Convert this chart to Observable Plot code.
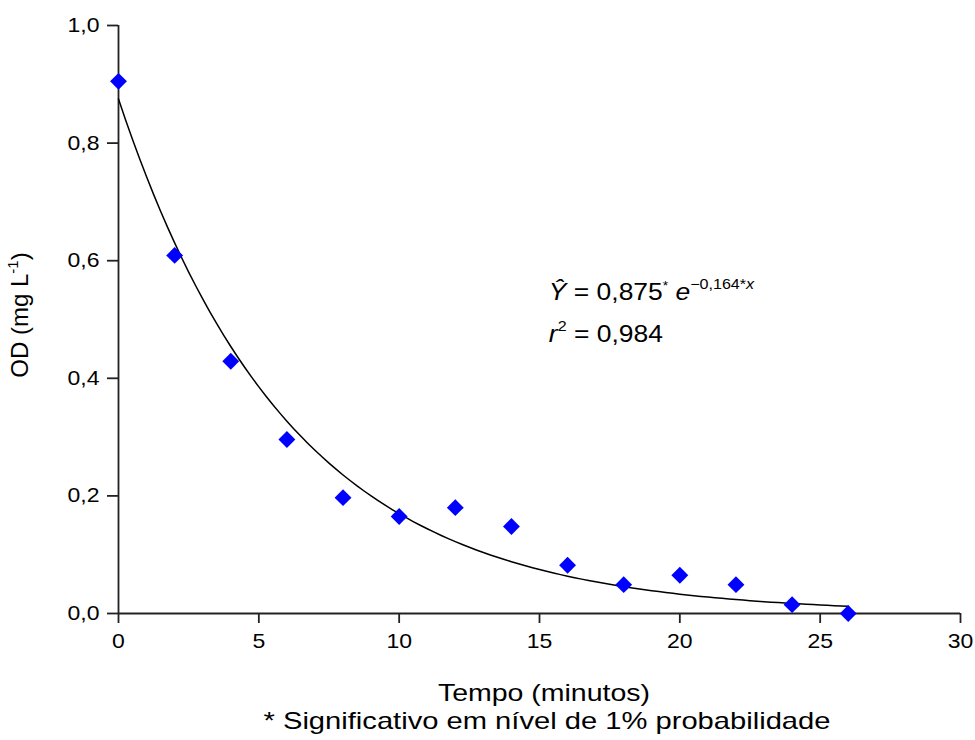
<!DOCTYPE html>
<html>
<head>
<meta charset="utf-8">
<script src="https://cdn.jsdelivr.net/npm/d3@7"></script>
<script src="https://cdn.jsdelivr.net/npm/@observablehq/plot@0.6"></script>
<style>
  html, body { margin: 0; padding: 0; background: #fff; }
  svg { font-family: "Liberation Sans", Arial, sans-serif; }
</style>
</head>
<body>
<div id="chart"></div>
<script>
const tempo = [0, 2, 4, 6, 8, 10, 12, 14, 16, 18, 20, 22, 24, 26];
const od = [0.905, 0.609, 0.429, 0.296, 0.197, 0.165, 0.180, 0.148, 0.082, 0.049, 0.065, 0.049, 0.015, 0.0];
// Fitted model coefficients shown on the chart
const modelA = [0.875];
const modelB = [-0.164];
const r2 = [0.984];
const xTicks = [0, 5, 10, 15, 20, 25, 30];
const yTicks = [0, 0.2, 0.4, 0.6, 0.8, 1.0];
const xTitle = "Tempo (minutos)";
const captionText = "* Significativo em nível de 1% probabilidade";

const points = tempo.map((t, i) => ({t, v: od[i]}));
const fitX = d3.range(0, 26.001, 0.25);
const fit = fitX.map(t => ({t, v: modelA[0] * Math.exp(modelB[0] * t)}));

const fmt = d => d.toFixed(1).replace(".", ",");
const fmt3 = d => d.toFixed(3).replace(".", ",");
const stretch = 1.15;

function equation(index, scales, values, dimensions) {
  const x0 = scales.x(15.35);
  const y1 = scales.y(0.532);
  const y2 = scales.y(0.461);
  const g = d3.create("svg:g").attr("fill", "#000").attr("font-size", 23).attr("text-anchor", "start")
    .attr("transform", `translate(${x0},0) scale(${stretch},1)`);
  const t1 = g.append("text").attr("x", 0).attr("y", y1);
  t1.append("tspan").attr("font-style", "italic").text("Ŷ");
  t1.append("tspan").text(" = " + fmt3(modelA[0]));
  t1.append("tspan").attr("font-size", 12).attr("dy", -10).text("*");
  t1.append("tspan").attr("dy", 10).attr("font-style", "italic").text(" e");
  t1.append("tspan").attr("font-size", 14).attr("dy", -11).text("\u2212" + Math.abs(modelB[0]).toFixed(3).replace(".", ",") + "*");
  t1.append("tspan").attr("font-size", 14).attr("font-style", "italic").text("x");
  const t2 = g.append("text").attr("x", 0).attr("y", y2);
  t2.append("tspan").attr("font-style", "italic").text("r");
  t2.append("tspan").attr("font-size", 14).attr("dy", -11).text("2");
  t2.append("tspan").attr("dy", 11).text(" = " + fmt3(r2[0]));
  return g.node();
}

function titles(index, scales, values, dimensions) {
  const {width, height, marginLeft, marginRight, marginTop, marginBottom} = dimensions;
  const cx = (marginLeft + width - marginRight) / 2;
  const cy = (marginTop + height - marginBottom) / 2;
  const g = d3.create("svg:g").attr("fill", "#000").attr("text-anchor", "middle");
  g.append("text").attr("x", cx + 5).attr("y", height - 39).attr("font-size", 24)
    .attr("textLength", 212).attr("lengthAdjust", "spacingAndGlyphs").text(xTitle);
  g.append("text").attr("x", cx + 8).attr("y", height - 11).attr("font-size", 24)
    .attr("textLength", 567).attr("lengthAdjust", "spacingAndGlyphs").text(captionText);
  const yl = g.append("text").attr("transform", `translate(${marginLeft - 90},${cy - 4}) rotate(-90)`).attr("font-size", 24);
  yl.append("tspan").text("OD (mg L");
  yl.append("tspan").attr("font-size", 15).attr("dy", -10).text("-1");
  yl.append("tspan").attr("dy", 10).text(")");
  return g.node();
}

const plot = Plot.plot({
  width: 975,
  height: 740,
  marginLeft: 118,
  marginRight: 15,
  marginTop: 25,
  marginBottom: 127,
  style: {fontSize: "20px", fontFamily: "'Liberation Sans', Arial, sans-serif", color: "#000", background: "#fff"},
  x: {domain: [0, 30], ticks: xTicks, label: null},
  y: {domain: [0, 1], ticks: yTicks, label: null},
  marks: [
    Plot.ruleY([0], {x1: 0, x2: 30, stroke: "#222", strokeWidth: 1.8}),
    Plot.ruleX([0], {y1: 0, y2: 1, stroke: "#222", strokeWidth: 1.8}),
    Plot.axisX({ticks: xTicks, tickSize: 10, tickPadding: 10, tickFormat: d => String(d), stroke: "#222", strokeWidth: 1.8, fontSize: 20, label: null, ariaLabel: "x-axis tick label"}),
    Plot.axisY({ticks: yTicks, tickSize: 11, tickPadding: 8, tickFormat: fmt, stroke: "#222", strokeWidth: 1.8, fontSize: 20, label: null, ariaLabel: "y-axis tick label"}),
    Plot.line(fit, {x: "t", y: "v", stroke: "#000", strokeWidth: 1.5}),
    Plot.dot(points, {x: "t", y: "v", symbol: "diamond2", r: 7.6, fill: "#0000ff", stroke: "none"}),
    titles,
    equation
  ]
});

// widen tick labels horizontally to match the reference's proportions
d3.select(plot).selectAll("g[aria-label$='tick label'] text").each(function() {
  const t = d3.select(this);
  const tr = t.attr("transform") || "";
  t.attr("transform", tr + ` scale(${stretch},1)`);
});

document.getElementById("chart").appendChild(plot);
</script>
</body>
</html>
